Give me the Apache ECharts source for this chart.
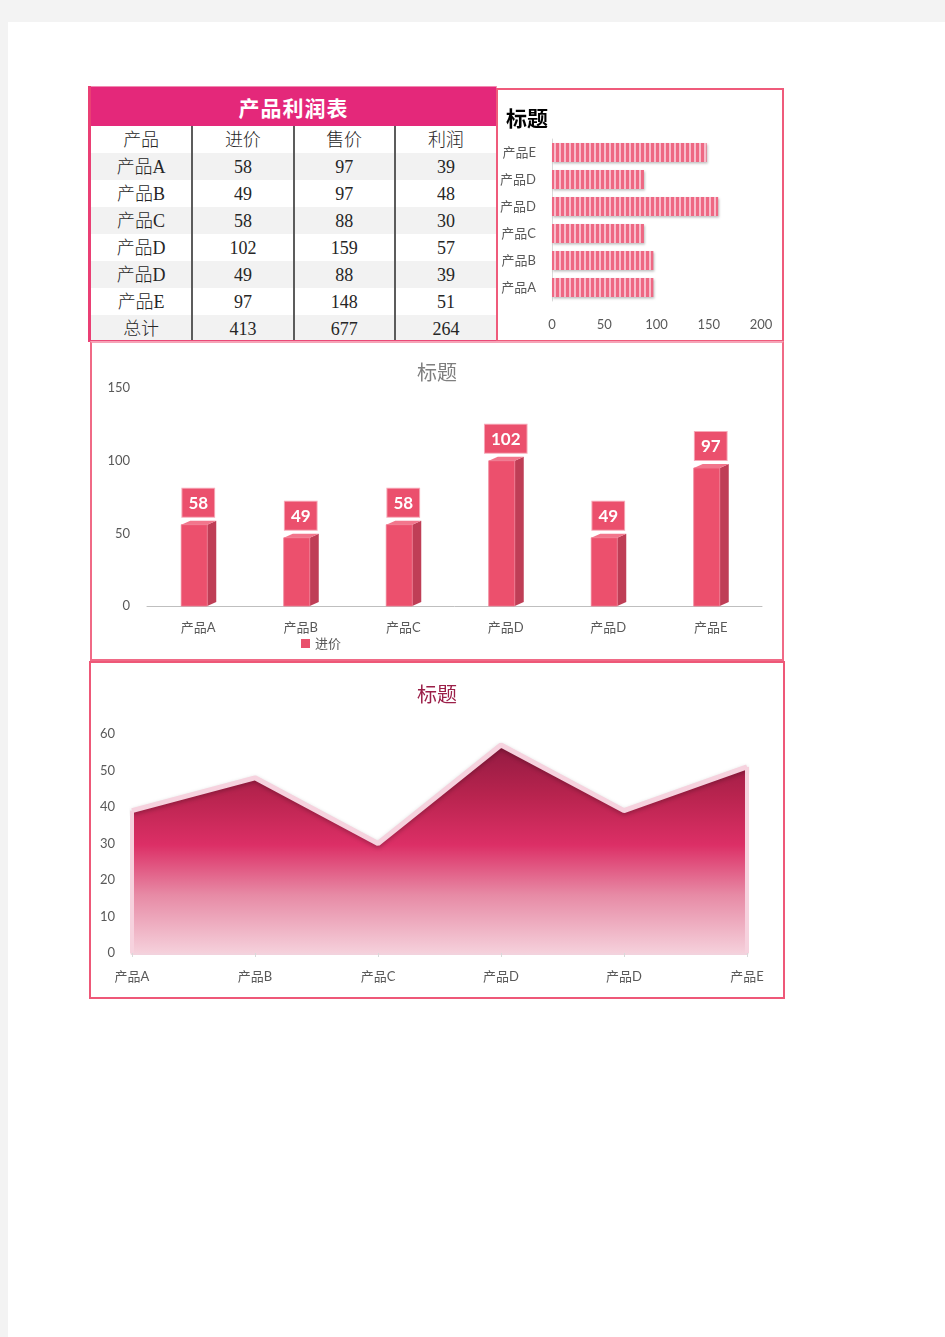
<!DOCTYPE html>
<html><head><meta charset="utf-8">
<script src="https://cdn.jsdelivr.net/npm/echarts@6/dist/echarts.min.js"></script>
<style>
html,body{margin:0;padding:0;background:#f3f3f3;width:945px;height:1337px;overflow:hidden;}
#page{position:absolute;left:8px;top:22px;width:937px;height:1315px;background:#fff;}
.abs{position:absolute;box-sizing:border-box;}
.frame{pointer-events:none;}
#tblWrap{left:88px;top:86px;width:409px;height:256px;border-left:3px solid #ea3f74;border-bottom:2px solid #ea4a78;border-right:1px solid #f29ab4;background:#fff;overflow:hidden;}
#tblTitle{height:34px;padding-top:5px;line-height:34px;background:#e4287a;border-top:1px solid #f08ab0;color:#fff;font:bold 21px "Liberation Serif","Noto Sans CJK SC";text-align:center;letter-spacing:1px;}
table{border-collapse:collapse;width:405px;table-layout:fixed;}
td{height:25px;padding:2px 0 0 0;text-align:center;font:300 18px "Liberation Serif","Noto Sans CJK SC";color:#262626;line-height:25px;}
td+td{border-left:2px solid #5c5c5c;}
tr.g td{background:#f2f2f2;}
</style>
</head><body>
<div id="page"></div>
<div id="tblWrap" class="abs"><div id="tblTitle"></div><table id="tbl"></table></div>
<div id="c1" class="abs" style="left:496px;top:88px;width:288px;height:254px;background:#fff"></div>
<div class="abs frame" style="left:496px;top:88px;width:288px;height:254px;border:2px solid #ef5b7b"></div>
<div id="c2" class="abs" style="left:90px;top:341px;width:694px;height:320px;background:#fff"></div>
<div class="abs frame" style="left:90px;top:341px;width:694px;height:320px;border:2px solid #f06a86;border-top-color:#f6a3b7"></div>
<div id="c3" class="abs" style="left:89px;top:661px;width:696px;height:338px;background:#fff"></div>
<div class="abs frame" style="left:89px;top:661px;width:696px;height:338px;border:2px solid #ee5878"></div>
<script>
// ---- data ----
const tableTitle = '产品利润表';
const headers = ['产品', '进价', '售价', '利润'];
const products = ['产品A', '产品B', '产品C', '产品D', '产品D', '产品E'];
const costPrice = [58, 49, 58, 102, 49, 97];     // 进价
const salePrice = [97, 97, 88, 159, 88, 148];    // 售价
const profit = [39, 48, 30, 57, 39, 51];         // 利润
const totalLabel = '总计';
const totals = [413, 677, 264];
const chartTitle = '标题';

// ---- table ----
document.getElementById('tblTitle').textContent = tableTitle;
const tbl = document.getElementById('tbl');
function addRow(cells, grey) {
  const tr = document.createElement('tr');
  if (grey) tr.className = 'g';
  cells.forEach(c => { const td = document.createElement('td'); td.textContent = c; tr.appendChild(td); });
  tbl.appendChild(tr);
}
addRow(headers, false);
products.forEach((p, i) => addRow([p, costPrice[i], salePrice[i], profit[i]], i % 2 === 0));
addRow([totalLabel].concat(totals), true);

const FONT = 'Lato, "Noto Sans CJK SC", sans-serif';
const LBL = '#595959';

// ---- chart 1: horizontal bars (售价) ----
function stripes() {
  const c = document.createElement('canvas'); c.width = 5; c.height = 4;
  const g = c.getContext('2d');
  g.fillStyle = '#ee6883'; g.fillRect(0, 0, 5, 4);
  g.fillStyle = '#f8bccb'; g.fillRect(3, 0, 2, 4);
  return c;
}
const c1 = echarts.init(document.getElementById('c1'));
c1.setOption({
  animation: false,
  textStyle: { fontFamily: FONT },
  title: { text: chartTitle, left: 5, top: 15, textStyle: { fontSize: 21, fontWeight: 'bold', color: '#000', fontFamily: '"Noto Sans CJK SC"' } },
  grid: { left: 56, top: 51, width: 209, height: 162, containLabel: false },
  xAxis: { type: 'value', min: 0, max: 200, interval: 50,
    axisLine: { show: false }, axisTick: { show: false }, splitLine: { show: false },
    axisLabel: { color: LBL, fontSize: 13, margin: 17 } },
  yAxis: { type: 'category', data: products,
    axisLine: { lineStyle: { color: '#d9d9d9' } }, axisTick: { show: false },
    axisLabel: { color: LBL, fontSize: 13, margin: 16, interval: 0 } },
  series: [{ type: 'bar', data: salePrice, barWidth: 19,
    itemStyle: { color: { image: stripes(), repeat: 'repeat' }, shadowColor: 'rgba(0,0,0,0.25)', shadowBlur: 2, shadowOffsetY: 1.5, shadowOffsetX: 1 } }]
});

// ---- chart 2: 3D-like columns (进价) ----
const c2 = echarts.init(document.getElementById('c2'));
c2.setOption({
  animation: false,
  textStyle: { fontFamily: FONT },
  title: { text: chartTitle, left: 'center', top: 16, textStyle: { fontSize: 20, fontWeight: 'normal', color: '#7f7f7f', fontFamily: '"Noto Sans CJK SC"' } },
  legend: { left: 206, top: 291, itemWidth: 9, itemHeight: 9, itemGap: 10,
    textStyle: { color: LBL, fontSize: 13 },
    data: [{ name: '进价', icon: 'rect', itemStyle: { color: '#e9506c' } }] },
  grid: { left: 57, top: 47, width: 615, height: 218 },
  xAxis: { type: 'category', data: products,
    axisLine: { lineStyle: { color: '#bfbfbf' } }, axisTick: { show: false },
    axisLabel: { color: LBL, fontSize: 13, margin: 15, interval: 0 } },
  yAxis: { type: 'value', min: 0, max: 150, interval: 50,
    axisLine: { show: false }, axisTick: { show: false }, splitLine: { show: false },
    axisLabel: { color: LBL, fontSize: 13, margin: 17 } },
  series: [{
    name: '进价', type: 'custom',
    itemStyle: { color: '#e9506c' },
    data: costPrice.map((v, i) => [i, v]),
    encode: { x: 0, y: 1 },
    renderItem: function (params, api) {
      const idx = api.value(0), val = api.value(1);
      const p = api.coord([idx, val]);
      const b = api.coord([idx, 0]);
      const w = 26, d = 9, h = 4;
      const cx = p[0];
      const x0 = cx - (w + d) / 2 + 0.5;
      const yTop = p[1] + 3;
      const yBot = b[1];
      return { type: 'group', children: [
        { type: 'polygon', shape: { points: [[x0 + w, yTop], [x0 + w + d, yTop - h], [x0 + w + d, yBot - h], [x0 + w, yBot]] }, style: { fill: '#bf3e56' } },
        { type: 'polygon', shape: { points: [[x0, yTop], [x0 + d, yTop - h], [x0 + w + d, yTop - h], [x0 + w, yTop]] }, style: { fill: '#f2768c' } },
        { type: 'rect', shape: { x: x0, y: yTop, width: w, height: yBot - yTop }, style: { fill: '#ec506d', stroke: '#f07a90', lineWidth: 0.8 } },
        { type: 'text', x: cx, y: yTop - 8, style: { text: String(val), fill: '#fff', fontSize: 17, fontWeight: 'bold', fontFamily: FONT,
            align: 'center', verticalAlign: 'bottom', backgroundColor: '#eb506d', padding: [6, 6, 5, 6], borderColor: '#f7a9b8', borderWidth: 1 } }
      ] };
    }
  }]
});

// ---- chart 3: area (利润) ----
const c3 = echarts.init(document.getElementById('c3'));
c3.setOption({
  animation: false,
  textStyle: { fontFamily: FONT },
  title: { text: chartTitle, left: 'center', top: 18, textStyle: { fontSize: 20, fontWeight: 'normal', color: '#9b1f48', fontFamily: '"Noto Sans CJK SC"' } },
  grid: { left: 43, top: 73, width: 615, height: 219 },
  xAxis: { type: 'category', data: products, boundaryGap: false,
    axisLine: { lineStyle: { color: '#f2d2dd', width: 3 } },
    axisTick: { show: true, length: 4, lineStyle: { color: '#d9d9d9' } },
    axisLabel: { color: LBL, fontSize: 13, margin: 17, interval: 0 } },
  yAxis: { type: 'value', min: 0, max: 60, interval: 10,
    axisLine: { show: false }, axisTick: { show: false }, splitLine: { show: false },
    axisLabel: { color: LBL, fontSize: 13, margin: 17 } },
  series: [{
    type: 'line', data: profit, symbol: 'none', z: 3,
    lineStyle: { color: '#f6d2de', width: 5, shadowColor: 'rgba(0,0,0,0.25)', shadowBlur: 4, shadowOffsetY: 2 },
    areaStyle: { opacity: 1, color: new echarts.graphic.LinearGradient(0, 0, 0, 1, [
      { offset: 0, color: '#921a41' },
      { offset: 0.25, color: '#b9244f' },
      { offset: 0.48, color: '#dc2f66' },
      { offset: 0.72, color: '#e78aa5' },
      { offset: 1, color: '#f5d0db' }]) },
    markLine: { silent: true, symbol: 'none', label: { show: false },
      lineStyle: { color: '#f6d2de', width: 4, type: 'solid' },
      data: [
        [{ coord: [0, 0] }, { coord: [0, profit[0]] }],
        [{ coord: [products.length - 1, 0] }, { coord: [products.length - 1, profit[profit.length - 1]] }]
      ] }
  }]
});
</script>
</body></html>
